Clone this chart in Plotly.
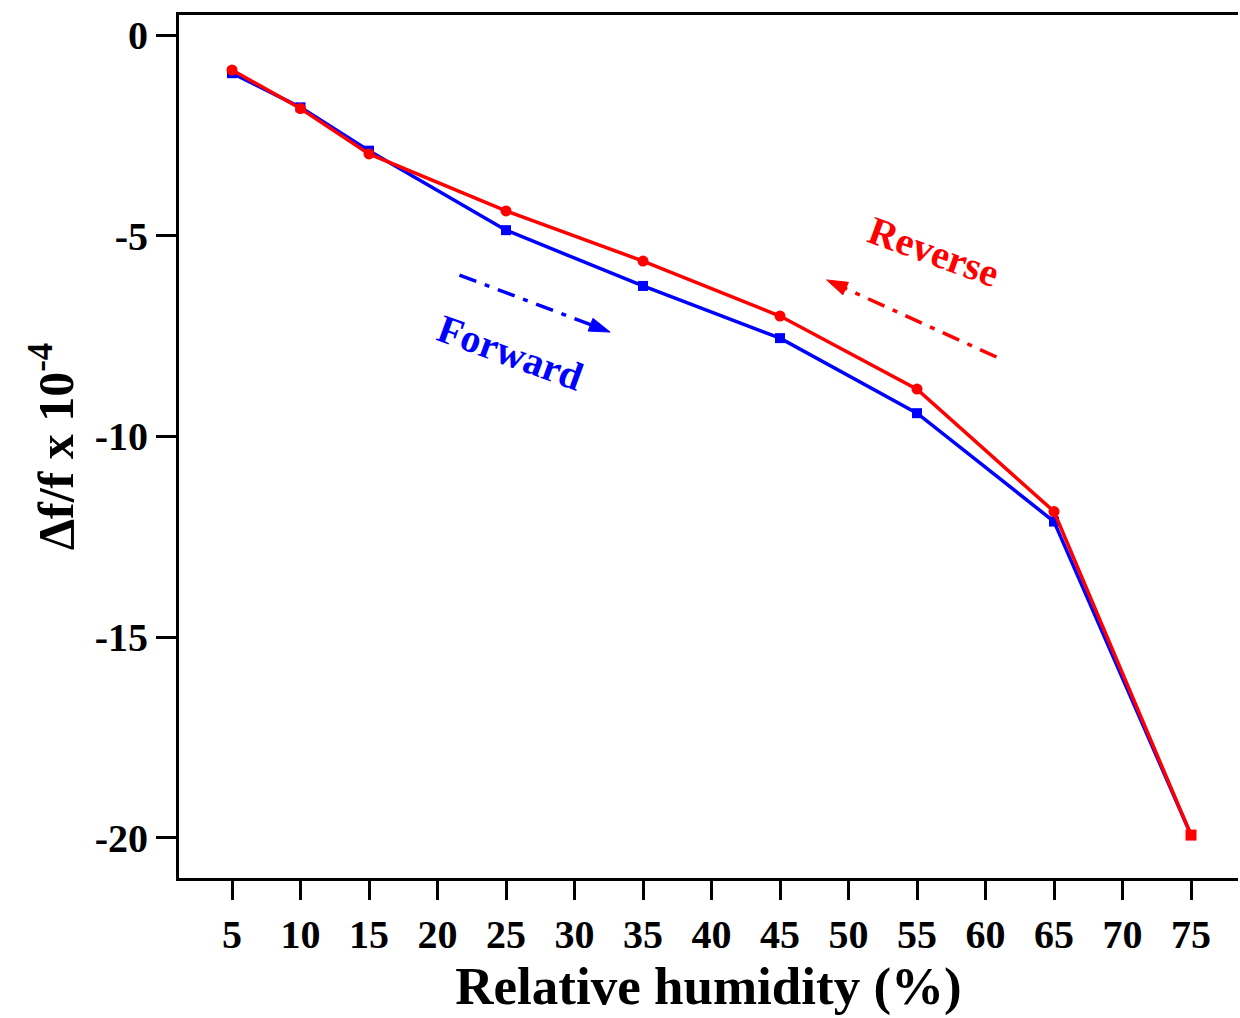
import plotly.graph_objects as go

# ---- data ----
humidity = [5, 10, 15, 25, 35, 45, 55, 65, 75]
forward = [-0.95, -1.80, -2.88, -4.86, -6.25, -7.55, -9.42, -12.12, -19.93]
reverse = [-0.87, -1.83, -2.96, -4.38, -5.63, -7.00, -8.82, -11.87, -19.93]
x_ticks = [5, 10, 15, 20, 25, 30, 35, 40, 45, 50, 55, 60, 65, 70, 75]
y_ticks = [0, -5, -10, -15, -20]

# direction arrows (data coords)
fwd_arrow_x = [21.6, 32.6]
fwd_arrow_y = [-5.98, -7.40]
rev_arrow_x = [60.8, 48.4]
rev_arrow_y = [-8.02, -6.10]

FONT = "Liberation Serif"
BLUE = "#0000FF"
RED = "#FF0000"

fig = go.Figure()

fig.add_trace(go.Scatter(
    x=humidity, y=forward, mode="lines+markers", name="Forward",
    line=dict(color=BLUE, width=3.5),
    marker=dict(symbol="square", size=10, color=BLUE),
))
red_symbols = ["circle"] * (len(humidity) - 1) + ["square"]
fig.add_trace(go.Scatter(
    x=humidity, y=reverse, mode="lines+markers", name="Reverse",
    line=dict(color=RED, width=3.5),
    marker=dict(symbol=red_symbols, size=11, color=RED),
))

# dash-dot arrows
for ax_, ay_, col in [(fwd_arrow_x, fwd_arrow_y, BLUE), (rev_arrow_x, rev_arrow_y, RED)]:
    fig.add_trace(go.Scatter(
        x=ax_, y=ay_, mode="lines+markers",
        line=dict(color=col, width=3.5, dash="18px,9px,5px,9px"),
        marker=dict(symbol="arrow", size=[0, 22], color=col, angleref="previous",
                    opacity=1, line=dict(width=1, color=col)),
        hoverinfo="skip",
    ))

fig.add_annotation(x=25.3, y=-7.9, text="<b>Forward</b>", showarrow=False,
                   textangle=20, font=dict(family=FONT, size=40, color=BLUE))
fig.add_annotation(x=56.2, y=-5.4, text="<b>Reverse</b>", showarrow=False,
                   textangle=20, font=dict(family=FONT, size=40, color=RED))

fig.update_layout(
    width=1240, height=1018,
    margin=dict(l=179, r=2, t=15, b=140),
    plot_bgcolor="white", paper_bgcolor="white",
    showlegend=False,
    font=dict(family=FONT, color="black"),
)

fig.update_xaxes(
    range=[1.13, 78.43], automargin=False,
    tickvals=x_ticks, ticktext=[f"<b>{v}</b>" for v in x_ticks],
    ticks="outside", ticklen=19, tickwidth=3, tickcolor="black",
    tickfont=dict(family=FONT, size=40, color="black"),
    showline=True, linewidth=3, linecolor="black", mirror=True,
    showgrid=False, zeroline=False,
    title=dict(text="<b>Relative humidity (%)</b>",
               font=dict(family=FONT, size=53, color="black"), standoff=4),
)
fig.update_yaxes(
    range=[-21.0, 0.5], automargin=False,
    tickvals=y_ticks, ticktext=[f"<b>{v}</b>" for v in y_ticks],
    ticks="outside", ticklen=20, tickwidth=3, tickcolor="black",
    tickfont=dict(family=FONT, size=40, color="black"),
    showline=True, linewidth=3, linecolor="black", mirror=False,
    showgrid=False, zeroline=False,
    title=dict(text="<b>Δf/f x 10<sup>-4</sup></b>",
               font=dict(family=FONT, size=50, color="black"), standoff=6),
)

fig.write_html("out.html", config={"displayModeBar": False},
               post_script="document.body.style.margin='0px';document.body.style.overflow='hidden';")
